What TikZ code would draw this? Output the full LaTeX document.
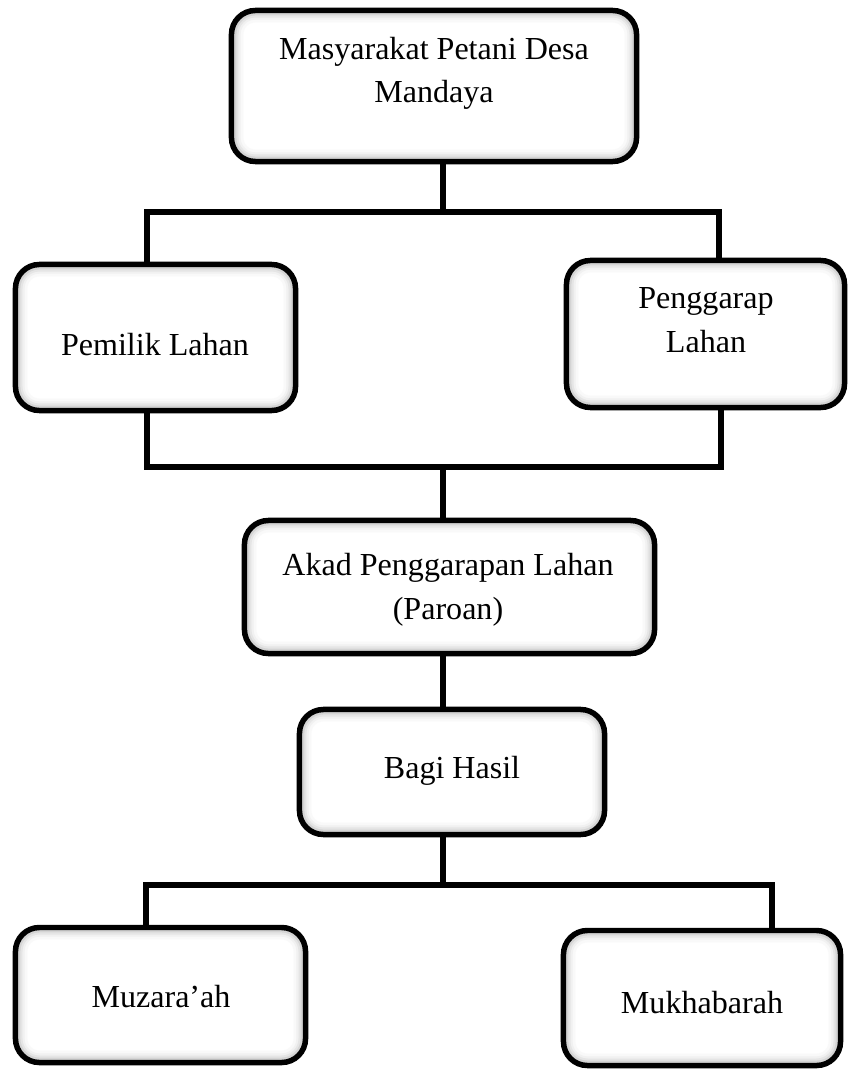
\documentclass[tikz,border=0pt]{standalone}
\usepackage{fontspec}
\setmainfont{Liberation Serif}
\usepackage{tikz}
\usetikzlibrary{positioning}
\tikzstyle{box} = [draw, line width=3.9pt, rounded corners=17pt, fill=white,
  path picture={\foreach \w/\c in {17/5,13/11,10/20,7/34}
    \draw[gray!\c, line width=\w pt, rounded corners=17pt] (path picture bounding box.south west) rectangle (path picture bounding box.north east);}]
\tikzstyle{link} = [line width=3.7pt]
\tikzstyle{txt} = [anchor=base, align=center, inner sep=0pt, font=\fontsize{22.8}{30.6}\selectfont]

\begin{document}
\begin{tikzpicture}[x=0.025cm,y=-0.025cm]
    \useasboundingbox (0,0) rectangle (850,1069);
    % boxes
    \node[box, minimum width=10.125cm, minimum height=3.775cm] (top) at (434,86) {};
    \node[box, minimum width=7cm, minimum height=3.65cm] (pemilik) at (155.5,337.5) {};
    \node[box, minimum width=6.95cm, minimum height=3.675cm] (penggarap) at (705.5,334) {};
    \node[box, minimum width=10.25cm, minimum height=3.325cm] (akad) at (449.5,587) {};
    \node[box, minimum width=7.625cm, minimum height=3.125cm] (bagi) at (452,772) {};
    \node[box, minimum width=7.25cm, minimum height=3.375cm] (muzara) at (160.5,995) {};
    \node[box, minimum width=6.925cm, minimum height=3.375cm] (mukha) at (702,998) {};

    % texts (base = last line)
    \node[txt] (t-top) at (434,103) {Masyarakat Petani Desa\\Mandaya};
    \node[txt] (t-pemilik) at (155,355) {Pemilik Lahan};
    \node[txt] (t-penggarap) at (706,352) {Penggarap\\Lahan};
    \node[txt] (t-akad) at (448,619) {Akad Penggarapan Lahan\\(Paroan)};
    \node[txt] (t-bagi) at (452,778) {Bagi Hasil};
    \node[txt] (t-muzara) at (161,1007) {Muzara’ah};
    \node[txt] (t-mukha) at (702,1013) {Mukhabarah};

    % connectors
    \coordinate (jtop) at (443,212);
    \coordinate (bl1) at (147,212);
    \coordinate (br1) at (719,212);
    \coordinate (jmid) at (443,467);
    \coordinate (bl2) at (147,467);
    \coordinate (br2) at (721,467);
    \coordinate (jbot) at (443,885);
    \coordinate (bl3) at (146,885);
    \coordinate (br3) at (772,885);

    \draw[link] (top.south -| jtop) -- (jtop);
    \draw[link] (pemilik.north -| bl1) -- (bl1) -- (br1) -- (penggarap.north -| br1);
    \draw[link] (pemilik.south -| bl2) -- (bl2) -- (br2) -- (penggarap.south -| br2);
    \draw[link] (jmid) -- (akad.north -| jmid);
    \draw[link] (akad.south -| jmid) -- (bagi.north -| jmid);
    \draw[link] (bagi.south -| jbot) -- (jbot);
    \draw[link] (muzara.north -| bl3) -- (bl3) -- (br3) -- (mukha.north -| br3);
\end{tikzpicture}
\end{document}
